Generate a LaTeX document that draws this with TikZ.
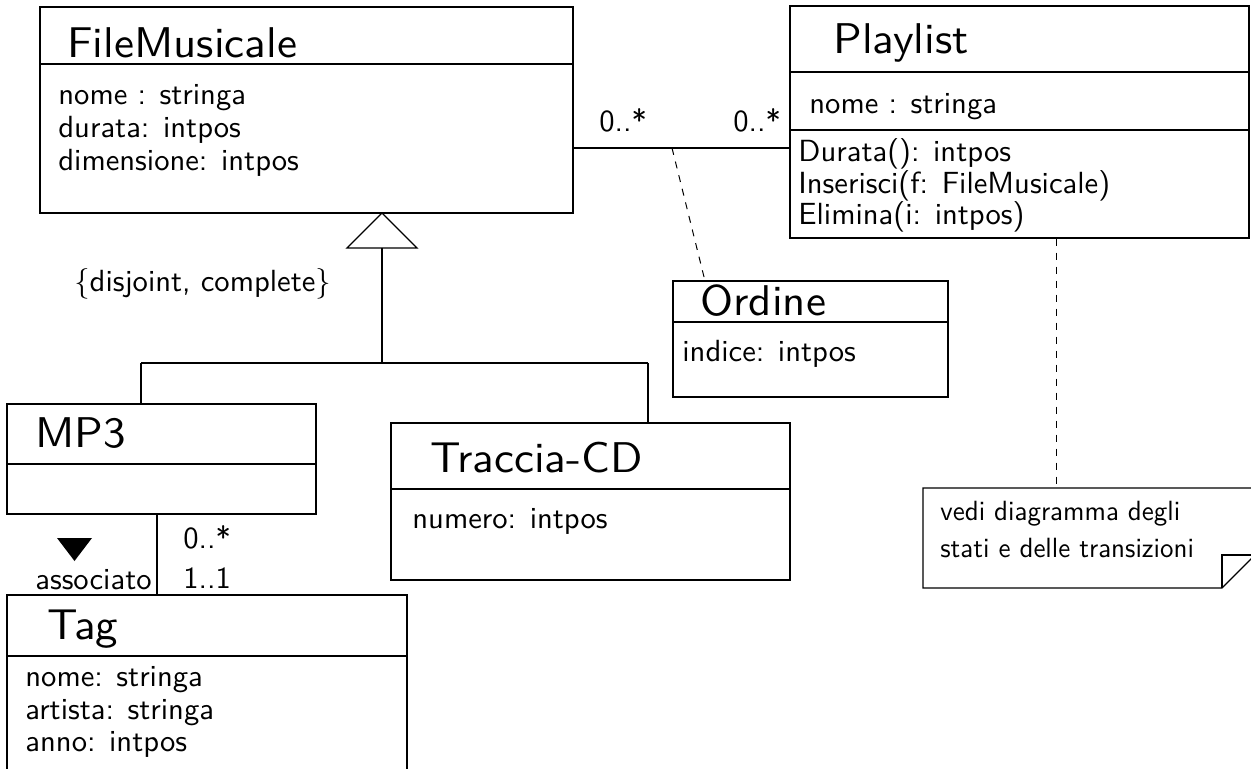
\documentclass[tikz,border=0pt]{standalone}
\usepackage{fontspec}
\newfontfamily\ttlfont{lmsans10-regular.otf}[FakeStretch=1.045]
\newfontfamily\atrfont{lmsans10-regular.otf}
\newfontfamily\ntefont{lmsans10-regular.otf}[FakeStretch=0.97]
\usetikzlibrary{fit}
\begin{document}
\begin{tikzpicture}[x=0.5pt,y=-0.5pt,
  box/.style={draw, inner sep=0pt, line width=0.65pt, fit=#1},
  ln/.style={line width=0.65pt},
  dashln/.style={line width=0.5pt, dash pattern=on 3.5pt off 3.5pt},
  title/.style={anchor=base west, inner sep=0pt, font=\ttlfont\fontsize{21.5}{24}\selectfont},
  attr/.style={anchor=base west, inner sep=0pt, font=\atrfont\fontsize{15.3}{18}\selectfont},
  notetext/.style={anchor=base west, inner sep=0pt, font=\ntefont\fontsize{13.9}{16}\selectfont}]
\useasboundingbox (0,0) rectangle (1251,769);
\clip (0,0) rectangle (1251,769);

% FileMusicale
\coordinate (fm1) at (40,7); \coordinate (fm2) at (573,213);
\node[box={(fm1)(fm2)}] (fm) {};
\draw[ln] (40,64) -- (573,64);
\node[title] (fmt) at (67,58) {FileMusicale};
\node[attr] (fma1) at (58,105) {nome : stringa};
\node[attr] (fma2) at (58,138) {durata: intpos};
\node[attr] (fma3) at (58,171) {dimensione: intpos};

% Playlist
\coordinate (pl1) at (790,6); \coordinate (pl2) at (1249,238);
\node[box={(pl1)(pl2)}] (pl) {};
\draw[ln] (790,72) -- (1249,72);
\draw[ln] (790,130) -- (1249,130);
\node[title] (plt) at (833,54) {Playlist};
\node[attr] (pla1) at (809,114) {nome : stringa};
\node[attr] (plm1) at (798,162) {Durata(): intpos};
\node[attr] (plm2) at (798,194) {Inserisci(f: FileMusicale)};
\node[attr] (plm3) at (798,225) {Elimina(i: intpos)};

% association FileMusicale - Playlist
\coordinate (am) at (672,148);
\draw[ln] (fm.east |- am) -- (pl.west |- am);
\node[attr] (m1) at (599,132) {0..*};
\node[attr] (m2) at (733,132) {0..*};

% Ordine
\coordinate (or1) at (673,281); \coordinate (or2) at (948,397);
\node[box={(or1)(or2)}] (ord) {};
\draw[ln] (673,322) -- (948,322);
\node[title] (ort) at (700,316) {Ordine};
\node[attr] (ora1) at (682,362) {indice: intpos};
\coordinate (ordtop) at (705,281);
\draw[dashln] (am) -- (ordtop);

% generalization
\coordinate (gapex) at (382,213);
\coordinate (gbase) at (382,248);
\coordinate (gjoin) at (382,363);
\coordinate (gl) at (141,363);
\coordinate (gr) at (648,363);
\draw[ln, fill=white] (gapex) -- (417,248) -- (347,248) -- cycle;
\draw[ln] (gbase) -- (gjoin);
\draw[ln] (gl) -- (gr);
\node[attr] (gc) at (74,292) {\{disjoint, complete\}};

% MP3
\coordinate (mp1) at (7,404); \coordinate (mp2) at (316,514);
\node[box={(mp1)(mp2)}] (mp3) {};
\draw[ln] (7,464) -- (316,464);
\node[title] (mpt) at (35,448) {MP3};
\draw[ln] (gl) -- (gl |- mp3.north);

% Traccia-CD
\coordinate (tc1) at (391,423); \coordinate (tc2) at (790,580);
\node[box={(tc1)(tc2)}] (tcd) {};
\draw[ln] (391,489) -- (790,489);
\node[title] (tct) at (430,473) {Traccia-CD};
\node[attr] (tca1) at (412,528) {numero: intpos};
\draw[ln] (gr) -- (gr |- tcd.north);

% Tag
\coordinate (tg1) at (7,595); \coordinate (tg2) at (407,790);
\node[box={(tg1)(tg2)}] (tag) {};
\draw[ln] (7,656) -- (407,656);
\node[title] (tgt) at (47,639) {Tag};
\node[attr] (tga1) at (25,686) {nome: stringa};
\node[attr] (tga2) at (25,719) {artista: stringa};
\node[attr] (tga3) at (25,751) {anno: intpos};

% association MP3 - Tag
\coordinate (as) at (157,514);
\draw[ln] (as) -- (as |- tag.north);
\fill (57,538) -- (92,538) -- (74.5,561) -- cycle;
\node[attr, anchor=base east] (asn) at (152,589) {associato};
\node[attr] (m3) at (183,548) {0..*};
\node[attr] (m4) at (183,588) {1..1};

% note
\coordinate (nt) at (1056,488);
\draw[ln] (923,488) -- (1255,488) -- (1255,555) -- (1222,588) -- (923,588) -- cycle;
\draw[ln] (1222,588) -- (1222,555) -- (1255,555);
\node[notetext] (n1) at (940,520) {vedi diagramma degli};
\node[notetext] (n2) at (940,557) {stati e delle transizioni};
\draw[dashln] (nt |- pl.south) -- (nt);
\end{tikzpicture}
\end{document}
